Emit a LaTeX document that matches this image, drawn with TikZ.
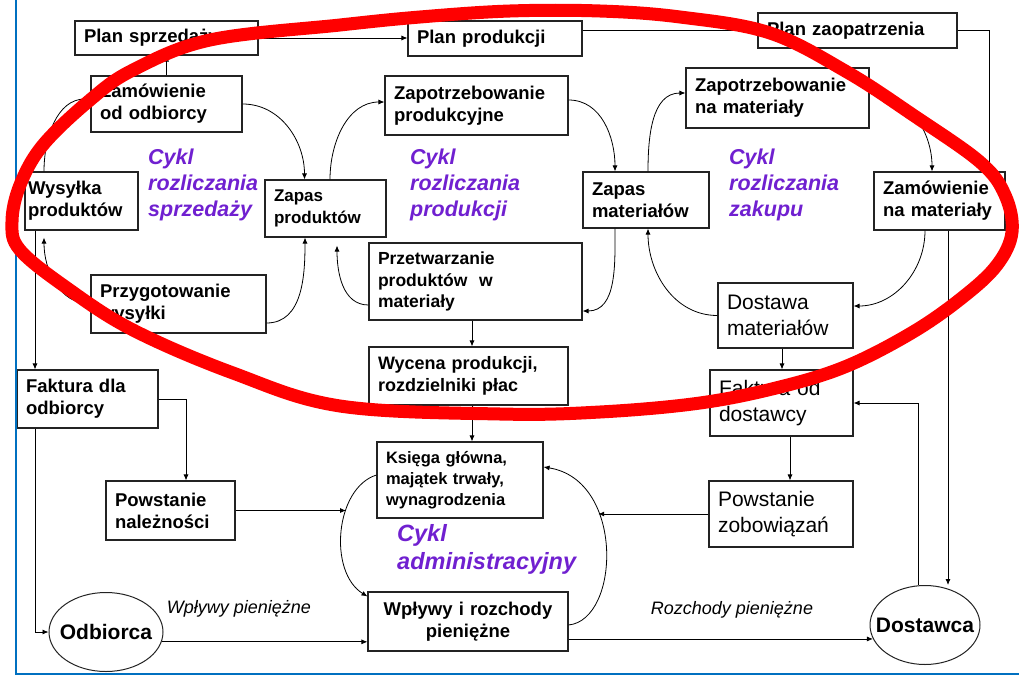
\documentclass[tikz,border=0pt]{standalone}
\usepackage{fontspec}
\setmainfont{Liberation Sans}
\usepackage{tikz}
\usetikzlibrary{arrows.meta,shapes.geometric}
\definecolor{cyklviolet}{RGB}{112,32,208}
\definecolor{frameblue}{RGB}{0,112,192}
\definecolor{boxline}{RGB}{35,35,35}

\begin{document}
\begin{tikzpicture}[x=1pt,y=-1pt,
    box/.style={draw=boxline,line width=1.1pt,align=left,inner xsep=9pt,inner ysep=0pt,
        font=\fontsize{18.5}{22}\selectfont\bfseries},
    thinbox/.style={box,font=\fontsize{21}{26}\selectfont},
    party/.style={draw=boxline,line width=1pt,ellipse,inner sep=0pt,
        font=\fontsize{21}{25}\selectfont\bfseries},
    cykl/.style={cyklviolet,align=left,anchor=west,inner sep=0pt,
        font=\fontsize{21.5}{26}\selectfont\bfseries\itshape},
    cash/.style={font=\fontsize{18}{22}\selectfont\itshape,inner sep=0pt},
    flow/.style={draw=black,line width=0.8pt,-{Latex[length=6pt,width=5pt]}}]
        \useasboundingbox (0,0) rectangle (1019,677);

        % plans
        \node[box,text width=165pt,minimum height=34pt] (plansp) at (166.5,38) {Plan sprzedaży};
        \node[box,text width=156pt,minimum height=35pt] (planpr) at (495,38.5) {Plan produkcji};
        \node[box,text width=181pt,minimum height=35pt] (planza) at (857.5,30.5) {Plan zaopatrzenia};

        % sales cycle
        \node[box,text width=133pt,minimum height=56pt] (zamodb) at (166.5,104) {Zamówienie\\od odbiorcy};
        \node[box,inner xsep=3pt,text width=107pt,minimum height=58pt] (wysylka) at (81.5,201) {Wysyłka\\produktów};
        \node[box,text width=103pt,minimum height=57pt,font=\fontsize{17}{22}\selectfont\bfseries] (zapprod) at (325.5,208.5) {Zapas\\produktów};
        \node[box,text width=157pt,minimum height=58pt] (przyg) at (178.5,304) {Przygotowanie\\wysyłki};
        \node[cykl] (cyklspr) at (148,185) {Cykl\\rozliczania\\sprzedaży};

        % production cycle
        \node[box,text width=165pt,minimum height=59pt] (zapotpr) at (476.5,105.5) {Zapotrzebowanie\\produkcyjne};
        \node[box,text width=195pt,minimum height=77pt,font=\fontsize{17.5}{21.5}\selectfont\bfseries] (przetw) at (475.5,281.5) {Przetwarzanie\\produktów\ \ w\\materiały};
        \node[box,text width=181pt,minimum height=58pt,font=\fontsize{18}{22}\selectfont\bfseries] (wycena) at (468.5,376) {Wycena produkcji,\\rozdzielniki płac};
        \node[cykl] (cyklprod) at (410,185) {Cykl\\rozliczania\\produkcji};

        % purchase cycle
        \node[box,text width=108pt,minimum height=56pt] (zapmat) at (646,200) {Zapas\\materiałów};
        \node[box,text width=165pt,minimum height=60pt] (zapotmat) at (777.5,98) {Zapotrzebowanie\\na materiały};
        \node[box,text width=113pt,minimum height=58pt] (zammat) at (939.5,201) {Zamówienie\\na materiały};
        \node[thinbox,text width=117pt,minimum height=65pt] (dostawa) at (785.5,315.5) {Dostawa\\materiałów};
        \node[thinbox,text width=125pt,minimum height=66pt] (faktdost) at (781.5,403) {Faktura od\\dostawcy};
        \node[thinbox,text width=126pt,minimum height=66pt] (zobow) at (781,514) {Powstanie\\zobowiązań};
        \node[cykl] (cyklzak) at (729,185) {Cykl\\rozliczania\\zakupu};

        % receivables and administration
        \node[box,text width=123pt,minimum height=58pt] (faktodb) at (87.5,399) {Faktura dla\\odbiorcy};
        \node[box,text width=111pt,minimum height=59pt] (naleznosci) at (170.5,510.5) {Powstanie\\należności};
        \node[box,text width=148pt,minimum height=76pt,font=\fontsize{16.5}{21}\selectfont\bfseries] (ksiega) at (460,480) {Księga główna,\\majątek trwały,\\wynagrodzenia};
        \node[box,text width=182pt,minimum height=59pt,align=center] (wplywy) at (468,621.5) {Wpływy i rozchody\\pieniężne};
        \node[cykl,font=\fontsize{23.5}{28}\selectfont\bfseries\itshape] (cykladm) at (397,549) {Cykl\\administracyjny};

        % outside parties
        \node[party,minimum width=114pt,minimum height=79pt] (odbiorca) at (106,632) {\makebox[0pt]{Odbiorca}};
        \node[party,minimum width=110pt,minimum height=79pt] (dostawca) at (925,625) {\makebox[0pt]{Dostawca}};
        \node[cash] (wplpien) at (239,609) {Wpływy pieniężne};
        \node[cash] (rozpien) at (732,610) {Rozchody pieniężne};

        % plan arrows
        \draw[flow] (zamodb.north) -- (plansp.south);
        \draw[flow] (plansp.east) -- (plansp.east -| planpr.west);
        \draw[flow] (planpr.east |- planza.west) -- (planza.west);
        \draw[flow] (planza.east) -| ([xshift=-16pt]zammat.north east);

        % sales arrows
        \draw[flow] (zamodb.east) to[out=0,in=90] ([xshift=-21pt]zapprod.north);
        \draw[flow] ([xshift=-37.5pt]wysylka.north) to[out=90,in=180] ([yshift=5pt]zamodb.west);
        \draw[flow] ([yshift=-19pt]przyg.east) to[out=0,in=-90] ([xshift=-20.5pt]zapprod.south);
        \draw[flow] (przyg.west) to[out=180,in=-90] ([shift={(-37.5pt,-7pt)}]wysylka.south);
        \draw[flow] ([xshift=-46.5pt]wysylka.south) -- ([xshift=-52.5pt]faktodb.north);
        \draw[flow] (faktodb.east) -| ([xshift=15.5pt]naleznosci.north);
        \draw[flow] ([xshift=-52.5pt]faktodb.south) |- (odbiorca.west);

        % production arrows
        \draw[flow] ([xshift=4.5pt]zapprod.north) to[out=90,in=180] ([yshift=3.5pt]zapotpr.west);
        \draw[flow] ([yshift=5.5pt]zapotpr.east) to[out=0,in=90] ([xshift=-31pt]zapmat.north);
        \draw[flow] ([xshift=-31pt]zapmat.south) to[out=-90,in=0] ([yshift=-29.5pt]przetw.east);
        \draw[flow] ([yshift=-23.5pt]przetw.west) to[out=180,in=-90] ([shift={(11.5pt,-8pt)}]zapprod.south);
        \draw[flow] ([xshift=-3.5pt]przetw.south) -- ([xshift=3.5pt]wycena.north);
        \draw[flow] ([xshift=3.5pt]wycena.south) -- ([xshift=12pt]ksiega.north);

        % purchase arrows
        \draw[flow] ([xshift=2pt]zapmat.north) to[out=90,in=180] ([yshift=5pt]zapotmat.west);
        \draw[flow] ([yshift=5pt]zapotmat.east) to[out=0,in=90] ([xshift=-7.5pt]zammat.north);
        \draw[flow] ([xshift=-14.5pt]zammat.south) to[out=-90,in=0] ([yshift=9.5pt]dostawa.east);
        \draw[flow] (dostawa.west) to[out=180,in=-90] ([xshift=2pt]zapmat.south);
        \draw[flow] ([xshift=-3.5pt]dostawa.south) -- ([xshift=0.5pt]faktdost.north);
        \draw[flow] ([xshift=8.5pt]faktdost.south) -- ([xshift=9pt]zobow.north);
        \draw[flow] ([xshift=-7pt]dostawca.north) |- (faktdost.east);
        \draw[flow] ([xshift=8.5pt]zammat.south) -- ([xshift=8.5pt]zammat.south |- dostawca.north);

        % administrative cycle
        \draw[flow] ([yshift=5pt]ksiega.west) .. controls (335,488) and (328,572) .. ([yshift=-5pt]wplywy.north west) coordinate[pos=0.35] (kL);
        \draw[flow] ([yshift=-3.5pt]wplywy.east) .. controls (620,620) and (625,480) .. ([yshift=13pt]ksiega.east) coordinate[pos=0.66] (kR);
        \draw[flow] (naleznosci.east) -- (naleznosci.east -| kL);
        \draw[flow] (zobow.west) -- (zobow.west -| kR);

        % cash flows
        \draw[flow] (odbiorca.-10) -- (odbiorca.-10 -| wplywy.west);
        \draw[flow] (wplywy.east |- dostawca.195) -- (dostawca.195);

        % frame and red mark
        \draw[frameblue,line width=2pt] (15.5,0) -- (15.5,674) -- (1019,674);
        \draw[red,line width=13pt] plot[smooth cycle,tension=0.6] coordinates {
            (12,222) (20,250) (67,288) (133,330) (233,373) (340,406) (500,414)
            (600,412) (700,403) (780,387) (847,366) (913,332) (963,297) (997,265)
            (1012,232) (1005,195) (980,162) (913,115) (847,72) (770,33) (680,17)
            (600,11) (510,11) (420,17) (340,25) (210,40) (133,70) (90,100)
            (43,145) (20,185)};
    \end{tikzpicture}
\end{document}
